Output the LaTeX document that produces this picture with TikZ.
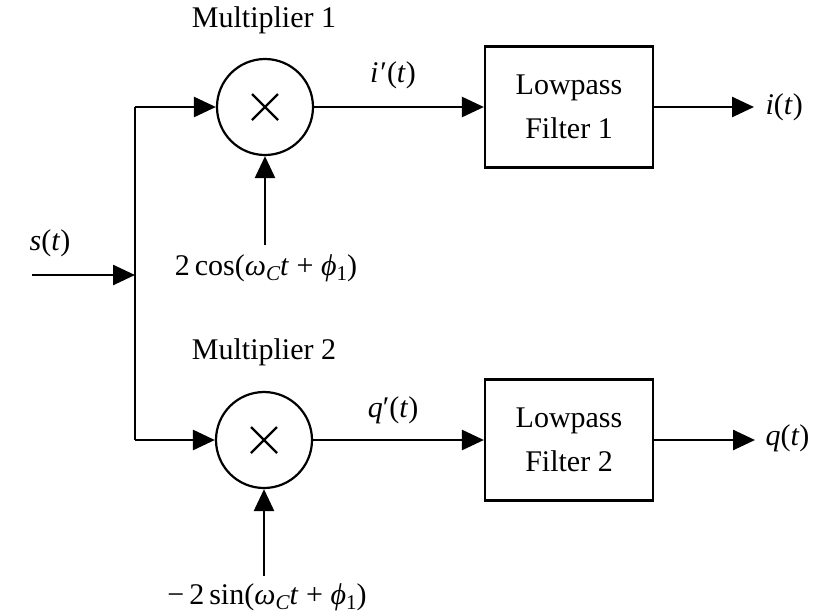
\documentclass[tikz,border=0pt]{standalone}
\usepackage{fontspec}
\setmainfont{Liberation Serif}
\usetikzlibrary{arrows.meta}
\newcommand\vi[1]{\textit{#1}}
\newcommand\sbs[1]{\raisebox{-0.35ex}{\fontsize{21}{22}\selectfont #1}}
\begin{document}
\begin{tikzpicture}[x=1pt,y=-1pt,
  every node/.style={font=\fontsize{30}{44}\selectfont},
  wire/.style={line width=2.6pt},
  arr/.style={wire,-{Triangle[length=22pt,width=20pt]}},
  mult/.style={draw,line width=2.2pt,circle,minimum size=96pt,inner sep=0pt},
  filt/.style={draw,line width=2.2pt,minimum width=168pt,minimum height=121pt,align=center,inner sep=0pt}]
\useasboundingbox (0,0) rectangle (821,614);

% multipliers
\node[mult] (m1) at (265,107) {};
\node[mult] (m2) at (264,440) {};
\foreach \m in {m1,m2}{
  \draw[line width=2.2pt] ([shift={(-13,-13)}]\m.center) -- ([shift={(13,13)}]\m.center)
                          ([shift={(-13,13)}]\m.center) -- ([shift={(13,-13)}]\m.center);
}
\node (lm1) at (264,20) {Multiplier 1};
\node (lm2) at (264,352) {Multiplier 2};

% lowpass filters
\node[filt] (f1) at (569,107) {Lowpass\\Filter 1};
\node[filt] (f2) at (569,440) {Lowpass\\Filter 2};

% input and branch point
\coordinate (in) at (32,275);
\coordinate (j) at (135,275);
\coordinate (jt) at (135,107);
\coordinate (jb) at (135,440);
\node (s) at (50,243) {\vi{s}(\vi{t})};
\draw[arr] (in) -- (j);
\draw[wire] (jt) -- (jb);
\draw[arr] (jt) -- (m1.west);
\draw[arr] (jb) -- (m2.west);

% local oscillator inputs
\node (c1) at (266,268) {2\,cos(\vi{ω}\sbs{\vi{C}}\vi{t} + \vi{ϕ}\sbs{1})};
\node (c2) at (267,597) {−\,2\,sin(\vi{ω}\sbs{\vi{C}}\vi{t} + \vi{ϕ}\sbs{1})};
\draw[arr] (265,245) -- (m1.south);
\draw[arr] (264,576) -- (m2.south);

% multiplier outputs
\draw[arr] (m1.east) -- (f1.west);
\draw[arr] (m2.east) -- (f2.west);
\node (ip) at (393,75) {\vi{i}\kern2pt′(\vi{t})};
\node (qp) at (393,410) {\vi{q}′(\vi{t})};

% filter outputs
\coordinate (o1) at (754,107);
\coordinate (o2) at (755,440);
\draw[arr] (f1.east) -- (o1);
\draw[arr] (f2.east) -- (o2);
\node[anchor=west] (i) at (762,107) {\vi{i}(\vi{t})};
\node[anchor=west] (q) at (762,438) {\vi{q}(\vi{t})};
\end{tikzpicture}
\end{document}
